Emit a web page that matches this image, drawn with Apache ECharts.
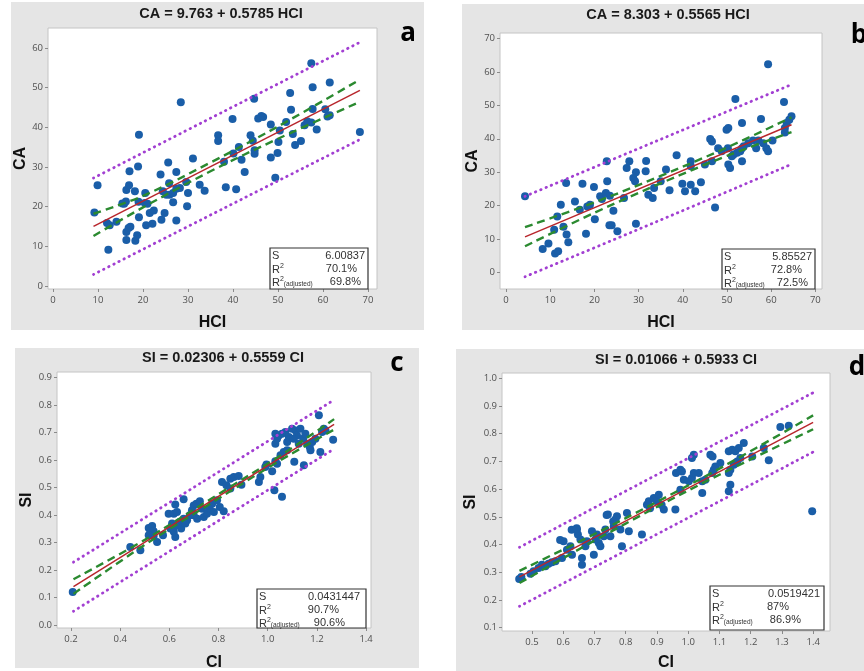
<!DOCTYPE html>
<html>
<head>
<meta charset="utf-8">
<title>Regression plots</title>
<script src="https://cdn.jsdelivr.net/npm/echarts@6/dist/echarts.min.js"></script>
<style>
  html, body { margin: 0; padding: 0; background: #fff; }
  #chart { width: 864px; height: 671px; }
</style>
</head>
<body>
<div id="chart"></div>
<script>
// ---- panel a: CA vs HCI ----
const aPoints = [
  [9.2, 18.5], [9.9, 25.4], [12.0, 15.9], [12.6, 15.3], [12.3, 9.1], [14.1, 16.2], [15.4, 20.8], [15.8, 20.7],
  [16.2, 21.3], [16.3, 24.2], [16.9, 25.4], [17.0, 28.9], [17.2, 14.9], [16.3, 13.6], [16.8, 14.6], [16.3, 11.6],
  [18.3, 11.4], [18.7, 12.8], [18.2, 23.9], [18.9, 30.1], [19.1, 38.1], [19.0, 21.2], [19.1, 17.3], [20.4, 20.9],
  [20.5, 23.4], [21.0, 20.7], [20.7, 15.3], [21.5, 18.4], [22.4, 19.0], [22.1, 15.7], [23.9, 28.1], [24.1, 16.7],
  [24.4, 23.9], [24.8, 18.4], [25.2, 23.0], [25.6, 31.1], [25.8, 25.9], [25.9, 23.0], [26.7, 23.4], [26.7, 21.1],
  [27.4, 28.7], [27.4, 24.5], [28.2, 24.7], [27.4, 16.5], [28.4, 46.3], [29.6, 26.2], [29.8, 20.1], [30.0, 23.4],
  [31.1, 32.1], [32.6, 25.5], [33.7, 24.0], [36.7, 38.0], [36.7, 36.5], [38.0, 31.3], [38.4, 24.9], [39.9, 42.1],
  [40.1, 33.4], [40.7, 24.4], [41.3, 35.0], [41.9, 31.8], [42.6, 28.7], [43.9, 38.0], [44.4, 36.6], [44.8, 34.2],
  [44.8, 33.3], [44.7, 47.2], [45.6, 42.2], [46.3, 42.8], [46.7, 42.6], [48.4, 40.7], [48.4, 32.4], [49.4, 27.3],
  [49.9, 33.5], [50.1, 36.3], [50.4, 39.2], [51.8, 41.3], [52.7, 48.6], [52.9, 44.4], [53.3, 38.3], [53.8, 35.5],
  [55.1, 36.5], [55.9, 40.5], [56.5, 41.5], [57.4, 41.2], [57.4, 56.1], [57.7, 50.1], [57.7, 44.6], [58.6, 39.4],
  [60.5, 44.5], [61.0, 42.7], [61.5, 43.0], [61.5, 51.3], [68.2, 38.8]
]
const aFit = [[9.0, 15.0], [68.2, 49.3]]
const aConfUp = [[9.0, 18.2], [20, 22.7], [35, 31.1], [50, 40.2], [68.2, 52.0]]
const aConfLo = [[9.0, 12.6], [20, 19.8], [35, 28.9], [50, 37.1], [68.2, 46.4]]
const aPredUp = [[9.0, 27.2], [38, 44.0], [68.2, 61.4]]
const aPredLo = [[9.0, 2.9], [38, 19.6], [68.2, 36.9]]
const aXTicks = [0, 10, 20, 30, 40, 50, 60, 70]
const aYTicks = [0, 10, 20, 30, 40, 50, 60]
const aStats = ['6.00837', '70.1%', '69.8%']

// ---- panel b: CA vs HCI ----
const bPoints = [
  [4.3, 22.8], [8.3, 7.1], [9.6, 8.7], [10.9, 12.8], [11.1, 5.7], [11.8, 6.4], [11.6, 16.8], [12.4, 20.3],
  [13.0, 13.7], [13.6, 26.8], [13.7, 11.4], [14.1, 9.1], [15.6, 21.3], [16.7, 18.8], [17.3, 26.6], [18.1, 11.6],
  [18.4, 19.8], [19.0, 20.3], [19.9, 25.6], [20.1, 16.0], [21.3, 22.8], [21.7, 22.0], [22.8, 33.3], [22.9, 27.3],
  [22.6, 23.8], [23.5, 23.0], [23.4, 14.2], [23.9, 14.2], [24.3, 18.5], [25.2, 12.4], [26.7, 22.3], [27.3, 31.3],
  [27.9, 33.3], [28.8, 28.3], [29.2, 27.3], [29.4, 14.6], [29.4, 30.0], [31.7, 33.4], [31.6, 30.3], [32.2, 23.3],
  [33.2, 22.3], [33.5, 25.3], [35.0, 27.3], [36.2, 30.8], [37.0, 24.6], [38.6, 35.1], [39.9, 26.6], [40.5, 24.3],
  [41.8, 33.3], [41.8, 31.8], [41.8, 26.3], [42.8, 24.3], [44.1, 27.0], [45.0, 32.3], [46.2, 39.9], [46.6, 39.2],
  [46.6, 33.3], [47.3, 19.5], [48.0, 37.2], [48.8, 36.3], [49.9, 42.7], [50.3, 43.2], [50.2, 37.2], [50.3, 32.3],
  [50.7, 31.3], [51.1, 34.8], [51.5, 35.3], [52.3, 35.8], [53.0, 36.3], [53.4, 37.2], [53.8, 37.8], [51.9, 51.9],
  [53.4, 44.7], [53.4, 33.3], [54.8, 38.7], [55.9, 39.5], [57.1, 39.5], [56.6, 37.2], [57.7, 45.9], [58.2, 38.7],
  [58.9, 37.2], [59.3, 36.3], [59.3, 62.3], [60.3, 39.5], [62.9, 51.0], [63.1, 43.2], [63.1, 41.9], [63.5, 44.7],
  [64.1, 45.7], [64.6, 46.7]
]
const bFit = [[4.3, 10.7], [64.6, 44.2]]
const bConfUp = [[4.3, 13.6], [20, 21.0], [35, 28.9], [50, 37.4], [64.6, 46.4]]
const bConfLo = [[4.3, 7.9], [20, 17.9], [35, 26.7], [50, 34.9], [64.6, 42.0]]
const bPredUp = [[4.3, 22.8], [34, 39.3], [64.6, 56.2]]
const bPredLo = [[4.3, -1.2], [34, 15.2], [64.6, 32.4]]
const bXTicks = [0, 10, 20, 30, 40, 50, 60, 70]
const bYTicks = [0, 10, 20, 30, 40, 50, 60, 70]
const bStats = ['5.85527', '72.8%', '72.5%']

// ---- panel c: SI vs CI ----
const cPoints = [
  [0.207, 0.121], [0.441, 0.284], [0.482, 0.272], [0.516, 0.353], [0.530, 0.360], [0.523, 0.339], [0.536, 0.341],
  [0.516, 0.327], [0.536, 0.324], [0.550, 0.302], [0.574, 0.327], [0.597, 0.405], [0.618, 0.405], [0.624, 0.438],
  [0.611, 0.369], [0.604, 0.351], [0.618, 0.339], [0.624, 0.320], [0.631, 0.363], [0.642, 0.375], [0.648, 0.351],
  [0.658, 0.387], [0.658, 0.457], [0.631, 0.411], [0.665, 0.369], [0.672, 0.381], [0.683, 0.399], [0.692, 0.417],
  [0.699, 0.435], [0.710, 0.441], [0.724, 0.450], [0.699, 0.399], [0.713, 0.387], [0.733, 0.423], [0.740, 0.393],
  [0.753, 0.405], [0.764, 0.423], [0.774, 0.441], [0.781, 0.411], [0.794, 0.454], [0.805, 0.429], [0.821, 0.414],
  [0.814, 0.520], [0.832, 0.508], [0.848, 0.532], [0.862, 0.538], [0.882, 0.542], [0.848, 0.496], [0.893, 0.510],
  [0.964, 0.520], [0.970, 0.538], [0.990, 0.574], [0.995, 0.583], [1.018, 0.559], [1.027, 0.490], [1.058, 0.466],
  [1.031, 0.595], [1.038, 0.586], [1.031, 0.659], [1.031, 0.695], [1.045, 0.689], [1.058, 0.695], [1.072, 0.701],
  [1.038, 0.677], [1.052, 0.617], [1.065, 0.629], [1.079, 0.635], [1.079, 0.665], [1.086, 0.683], [1.099, 0.713],
  [1.113, 0.707], [1.119, 0.689], [1.106, 0.677], [1.108, 0.593], [1.126, 0.659], [1.133, 0.713], [1.144, 0.677],
  [1.153, 0.695], [1.147, 0.581], [1.160, 0.659], [1.171, 0.647], [1.174, 0.635], [1.181, 0.665], [1.194, 0.677],
  [1.208, 0.762], [1.214, 0.629], [1.221, 0.701], [1.228, 0.713], [1.235, 0.707], [1.266, 0.673]
]
const cFit = [[0.21, 0.140], [1.27, 0.729]]
const cConfUp = [[0.21, 0.167], [0.5, 0.310], [0.8, 0.476], [1.05, 0.615], [1.27, 0.748]]
const cConfLo = [[0.21, 0.114], [0.5, 0.292], [0.8, 0.460], [1.05, 0.598], [1.27, 0.710]]
const cPredUp = [[0.21, 0.229], [0.74, 0.523], [1.27, 0.818]]
const cPredLo = [[0.21, 0.051], [0.74, 0.346], [1.27, 0.640]]
const cXTicks = [0.2, 0.4, 0.6, 0.8, 1.0, 1.2, 1.4]
const cYTicks = [0.0, 0.1, 0.2, 0.3, 0.4, 0.5, 0.6, 0.7, 0.8, 0.9]
const cStats = ['0.0431447', '90.7%', '90.6%']

// ---- panel d: SI vs CI ----
const dPoints = [
  [0.459, 0.276], [0.466, 0.283], [0.495, 0.295], [0.505, 0.304], [0.521, 0.315], [0.532, 0.327], [0.543, 0.322],
  [0.553, 0.331], [0.564, 0.336], [0.575, 0.340], [0.596, 0.351], [0.601, 0.412], [0.612, 0.381], [0.623, 0.394],
  [0.628, 0.363], [0.644, 0.454], [0.647, 0.436], [0.655, 0.418], [0.660, 0.351], [0.660, 0.327], [0.671, 0.394],
  [0.676, 0.412], [0.692, 0.448], [0.698, 0.363], [0.703, 0.418], [0.708, 0.436], [0.714, 0.406], [0.719, 0.394],
  [0.730, 0.430], [0.735, 0.454], [0.743, 0.508], [0.751, 0.430], [0.762, 0.466], [0.767, 0.490], [0.772, 0.502],
  [0.783, 0.454], [0.788, 0.394], [0.804, 0.514], [0.810, 0.448], [0.852, 0.436], [0.868, 0.544], [0.874, 0.556],
  [0.890, 0.568], [0.900, 0.556], [0.906, 0.580], [0.922, 0.526], [0.959, 0.526], [0.961, 0.658], [0.975, 0.670],
  [0.980, 0.664], [0.975, 0.598], [0.986, 0.634], [1.002, 0.628], [1.012, 0.640], [1.018, 0.658], [1.034, 0.658],
  [1.012, 0.712], [1.018, 0.724], [1.045, 0.586], [1.045, 0.628], [1.055, 0.634], [1.071, 0.724], [1.078, 0.718],
  [1.077, 0.658], [1.082, 0.670], [1.087, 0.682], [1.103, 0.694], [1.130, 0.737], [1.141, 0.742], [1.151, 0.737],
  [1.162, 0.748], [1.178, 0.766], [1.130, 0.658], [1.135, 0.670], [1.146, 0.688], [1.157, 0.700], [1.167, 0.712],
  [1.135, 0.616], [1.130, 0.592], [1.205, 0.718], [1.242, 0.748], [1.258, 0.704], [1.295, 0.824], [1.322, 0.829],
  [1.397, 0.520], [0.627, 0.453], [0.643, 0.459], [0.590, 0.416], [0.739, 0.507], [0.760, 0.483], [0.878, 0.531],
  [0.915, 0.543]
]
const dFit = [[0.46, 0.283], [1.40, 0.841]]
const dConfUp = [[0.46, 0.305], [0.7, 0.438], [0.9, 0.554], [1.1, 0.674], [1.40, 0.866]]
const dConfLo = [[0.46, 0.261], [0.7, 0.414], [0.9, 0.536], [1.1, 0.652], [1.40, 0.816]]
const dPredUp = [[0.46, 0.390], [0.93, 0.670], [1.40, 0.948]]
const dPredLo = [[0.46, 0.177], [0.93, 0.455], [1.40, 0.734]]
const dXTicks = [0.5, 0.6, 0.7, 0.8, 0.9, 1.0, 1.1, 1.2, 1.3, 1.4]
const dYTicks = [0.1, 0.2, 0.3, 0.4, 0.5, 0.6, 0.7, 0.8, 0.9, 1.0]
const dStats = ['0.0519421', '87%', '86.9%']

const COLORS = {
  panel: '#e5e5e5',
  point: '#1a5ea8',
  fit: '#b8262c',
  conf: '#2b8a30',
  pred: '#a23fd2',
  tick: '#505050',
}

// layout of each panel (pixels) – kept apart from the data above
const panels = [
  {
    points: aPoints, fit: aFit, confUp: aConfUp, confLo: aConfLo, predUp: aPredUp, predLo: aPredLo,
    xTicks: aXTicks, yTicks: aYTicks, stats: aStats, digits: 0,
    title: 'CA = 9.763 + 0.5785 HCI', letter: 'a', xName: 'HCI', yName: 'CA',
    bg: [11, 2, 413, 328], grid: { left: 48, top: 28, width: 329, height: 261 },
    xRange: [-1.11, 72.0], yRange: [-0.76, 65.0], xGap: 26, yGap: 19,
    titlePos: [221, 14], letterPos: [408, 34], box: [270, 248, 98, 41], valRight: [365, 357, 361],
  },
  {
    points: bPoints, fit: bFit, confUp: bConfUp, confLo: bConfLo, predUp: bPredUp, predLo: bPredLo,
    xTicks: bXTicks, yTicks: bYTicks, stats: bStats, digits: 0,
    title: 'CA = 8.303 + 0.5565 HCI', letter: 'b', xName: 'HCI', yName: 'CA',
    bg: [462, 4, 402, 326], grid: { left: 500, top: 33, width: 322, height: 256 },
    xRange: [-1.36, 71.5], yRange: [-4.87, 71.6], xGap: 26, yGap: 18,
    titlePos: [668, 15], letterPos: [859, 36], box: [722, 249, 93, 40], valRight: [812, 802, 808],
  },
  {
    points: cPoints, fit: cFit, confUp: cConfUp, confLo: cConfLo, predUp: cPredUp, predLo: cPredLo,
    xTicks: cXTicks, yTicks: cYTicks, stats: cStats, digits: 1,
    title: 'SI = 0.02306 + 0.5559 CI', letter: 'c', xName: 'CI', yName: 'SI',
    bg: [15, 348, 404, 320], grid: { left: 57, top: 372, width: 314, height: 256 },
    xRange: [0.143, 1.42], yRange: [-0.0098, 0.919], xGap: 27, yGap: 22,
    titlePos: [223, 358], letterPos: [397, 364], box: [257, 589, 109, 39], valRight: [360, 339, 345],
  },
  {
    points: dPoints, fit: dFit, confUp: dConfUp, confLo: dConfLo, predUp: dPredUp, predLo: dPredLo,
    xTicks: dXTicks, yTicks: dYTicks, stats: dStats, digits: 1,
    title: 'SI = 0.01066 + 0.5933 CI', letter: 'd', xName: 'CI', yName: 'SI',
    bg: [456, 349, 408, 322], grid: { left: 502, top: 373, width: 328, height: 258 },
    xRange: [0.404, 1.454], yRange: [0.088, 1.019], xGap: 24, yGap: 23,
    titlePos: [676, 360], letterPos: [857, 368], box: [710, 586, 114, 44], valRight: [820, 789, 801],
  },
]

const axisNameStyle = {
  fontFamily: 'Liberation Sans',
  fontWeight: 'bold',
  fontSize: 16,
  color: '#111',
}

const makeAxis = (i, p, dim) => {
  const ticks = dim === 'x' ? p.xTicks : p.yTicks
  const range = dim === 'x' ? p.xRange : p.yRange
  return {
    type: 'value',
    gridIndex: i,
    min: range[0],
    max: range[1],
    name: dim === 'x' ? p.xName : p.yName,
    nameLocation: 'middle',
    nameGap: dim === 'x' ? p.xGap : p.yGap,
    nameTextStyle: axisNameStyle,
    axisLine: { show: false, onZero: false },
    splitLine: { show: false },
    axisTick: {
      show: true,
      length: 3,
      lineStyle: { color: '#8a8a8a' },
      customValues: ticks,
    },
    axisLabel: {
      customValues: ticks,
      formatter: (v) => v.toFixed(p.digits),
      fontFamily: 'Open Sans',
      fontSize: 9.5,
      color: COLORS.tick,
      margin: dim === 'x' ? 6 : 5,
    },
  }
}

const lineSeries = (i, data, lineStyle, smooth) => ({
  type: 'line',
  xAxisIndex: i,
  yAxisIndex: i,
  data,
  symbol: 'none',
  smooth: smooth ? 0.35 : false,
  lineStyle,
  z: 4,
  silent: true,
})

const predStyle = { color: COLORS.pred, width: 2.8, type: [0.5, 5.2], cap: 'round' }
const confStyle = { color: COLORS.conf, width: 2.4, type: [8, 5] }
const fitStyle = { color: COLORS.fit, width: 1.5 }

const statsBox = (p) => {
  const [x, y, w, h] = p.box
  const font = { fontFamily: 'Liberation Sans', fontSize: 11, fill: '#333' }
  const rich = {
    r: { fontFamily: 'Liberation Sans', fontSize: 11, color: '#333', lineHeight: 12, verticalAlign: 'bottom' },
    sup: { fontFamily: 'Liberation Sans', fontSize: 7, color: '#333', lineHeight: 12, verticalAlign: 'top' },
    sub: { fontFamily: 'Liberation Sans', fontSize: 6.5, color: '#555', lineHeight: 12, verticalAlign: 'bottom' },
  }
  const rowY = [y + 8, y + 21, y + 34]
  const labels = ['S', '{r|R}{sup|2}', '{r|R}{sup|2}{sub|(adjusted)}']
  const items = [
    {
      type: 'rect',
      shape: { x, y, width: w, height: h },
      style: { fill: '#fff', stroke: '#333', lineWidth: 1.2 },
      z: 100,
    },
  ]
  labels.forEach((label, k) => {
    items.push({
      type: 'text',
      x: x + 2,
      y: rowY[k],
      z: 101,
      style: { text: label, rich, ...font, align: 'left', verticalAlign: 'middle' },
    })
    items.push({
      type: 'text',
      x: p.valRight[k],
      y: rowY[k],
      z: 101,
      style: { text: p.stats[k], ...font, align: 'right', verticalAlign: 'middle' },
    })
  })
  return items
}

const grids = []
const xAxes = []
const yAxes = []
const series = []
const graphics = []

panels.forEach((p, i) => {
  grids.push({
    ...p.grid,
    show: true,
    backgroundColor: '#fff',
    borderColor: '#c4c4c4',
    borderWidth: 1,
    containLabel: false,
    outerBoundsMode: 'none',
  })
  xAxes.push(makeAxis(i, p, 'x'))
  yAxes.push(makeAxis(i, p, 'y'))

  series.push({
    type: 'scatter',
    xAxisIndex: i,
    yAxisIndex: i,
    data: p.points,
    symbolSize: 8,
    itemStyle: { color: COLORS.point, opacity: 1 },
    z: 2,
  })
  series.push(lineSeries(i, p.predUp, predStyle, true))
  series.push(lineSeries(i, p.predLo, predStyle, true))
  series.push(lineSeries(i, p.confUp, confStyle, true))
  series.push(lineSeries(i, p.confLo, confStyle, true))
  series.push(lineSeries(i, p.fit, fitStyle, false))

  graphics.push({
    type: 'rect',
    shape: { x: p.bg[0], y: p.bg[1], width: p.bg[2], height: p.bg[3] },
    style: { fill: COLORS.panel },
    z: -100,
    silent: true,
  })
  graphics.push({
    type: 'text',
    x: p.titlePos[0],
    y: p.titlePos[1],
    style: {
      text: p.title,
      fontFamily: 'Liberation Sans',
      fontWeight: 'bold',
      fontSize: 14.5,
      fill: '#1a1a1a',
      align: 'center',
      verticalAlign: 'middle',
    },
  })
  graphics.push({
    type: 'text',
    x: p.letterPos[0],
    y: p.letterPos[1],
    style: {
      text: p.letter,
      fontFamily: 'Open Sans',
      fontWeight: 'bold',
      fontSize: 26,
      fill: '#000',
      align: 'center',
      verticalAlign: 'middle',
    },
  })
  graphics.push(...statsBox(p))
})

const chart = echarts.init(document.getElementById('chart'), null, { renderer: 'canvas' })
chart.setOption({
  animation: false,
  backgroundColor: '#fff',
  grid: grids,
  xAxis: xAxes,
  yAxis: yAxes,
  series,
  graphic: { elements: graphics },
})
</script>
</body>
</html>
